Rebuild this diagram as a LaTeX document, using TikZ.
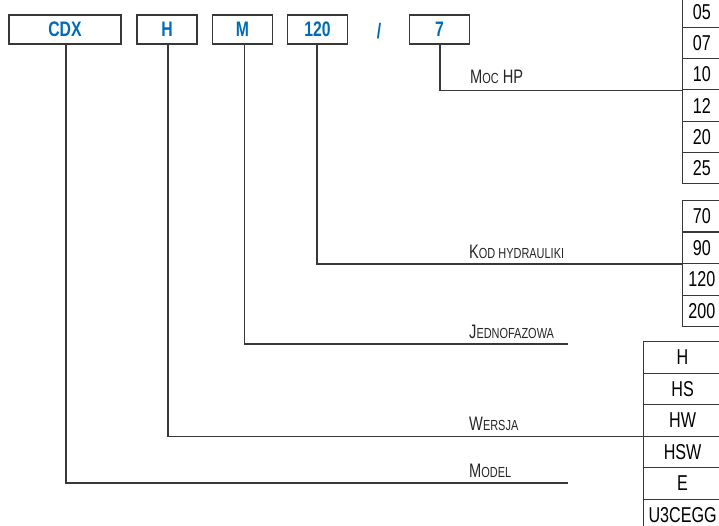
\documentclass[tikz,border=0pt]{standalone}
\usepackage{fontspec}
\setmainfont{Liberation Sans}[FakeStretch=0.75]
\definecolor{codeblue}{RGB}{0,107,182}
\colorlet{rulegray}{black!78}

% label in small capitals: first letter full size, the rest reduced
\newcommand\capsfirst[2]{{\fontsize{19.5}{19.5}\selectfont #1}{\fontsize{14.6}{14.6}\selectfont #2}}

\tikzset{
  codebox/.style={draw=rulegray, line width=1.2pt, minimum height=29pt,
    minimum width=60pt, inner sep=0pt, text=codeblue,
    font=\fontsize{21}{21}\selectfont\bfseries},
  cell/.style={draw=rulegray, line width=1.1pt, anchor=north west,
    inner sep=0pt, font=\fontsize{21.5}{21.5}\selectfont},
  narrowcell/.style={cell, minimum width=38.5pt, minimum height=31.2pt},
  midcell/.style={cell, minimum width=38.5pt, minimum height=31.5pt},
  widecell/.style={cell, minimum width=78pt, minimum height=31.5pt},
  link/.style={draw=rulegray, line width=1.2pt},
  tag/.style={anchor=base west, inner sep=0pt, text=black!85},
}

\begin{document}
\begin{tikzpicture}[x=1pt,y=-1pt]
\useasboundingbox (0,0) rectangle (719,526);

% code fields
\node[codebox, minimum width=112pt] (cdx) at (65,29.5) {CDX};
\node[codebox] (ver) at (167,29.5) {H};
\node[codebox] (ph)  at (242.5,29.5) {M};
\node[codebox] (hyd) at (317.5,29.5) {120};
\node[text=codeblue, inner sep=0pt, font=\fontsize{21}{21}\selectfont\bfseries] (sl) at (379,31) {/};
\node[codebox] (pwr) at (439.5,29.5) {7};

% power column
\node[narrowcell] (p05) at (682,-4.2) {05};
\node[narrowcell] (p07) at (682,27.0) {07};
\node[narrowcell] (p10) at (682,58.2) {10};
\node[narrowcell] (p12) at (682,89.4) {12};
\node[narrowcell] (p20) at (682,120.6) {20};
\node[narrowcell] (p25) at (682,151.8) {25};

% hydraulic code column
\node[midcell] (k70)  at (682,200) {70};
\node[midcell] (k90)  at (682,231.5) {90};
\node[midcell] (k120) at (682,263) {120};
\node[midcell] (k200) at (682,294.5) {200};

% version column
\node[widecell] (vH)   at (643,341) {H};
\node[widecell] (vHS)  at (643,372.5) {HS};
\node[widecell] (vHW)  at (643,404) {HW};
\node[widecell] (vHSW) at (643,435.5) {HSW};
\node[widecell] (vE)   at (643,467) {E};
\node[widecell] (vU)   at (643,498.5) {U3CEGG};

% free ends
\coordinate (phEnd) at (568,344);
\coordinate (mdEnd) at (568,483);

% connectors
\draw[link] (pwr.south) ++(0.5,0) |- (p10.south west);
\draw[link] (hyd.south) ++(-0.5,0) |- (k90.south west);
\draw[link] (ph.south) ++(2,0) |- (phEnd);
\draw[link] (ver.south) ++(1,0) |- (vHW.south west);
\draw[link] (cdx.south) ++(1,0) |- (mdEnd);

% labels
\node[tag] (tPwr) at (470,83.5) {\capsfirst{M}{OC}{\fontsize{19.5}{19.5}\selectfont\ HP}};
\node[tag] (tHyd) at (469,258.5) {\capsfirst{K}{OD HYDRAULIKI}};
\node[tag] (tPh)  at (469,338.5) {\capsfirst{J}{EDNOFAZOWA}};
\node[tag] (tVer) at (469,430) {\capsfirst{W}{ERSJA}};
\node[tag] (tMd)  at (469,477) {\capsfirst{M}{ODEL}};
\end{tikzpicture}
\end{document}
